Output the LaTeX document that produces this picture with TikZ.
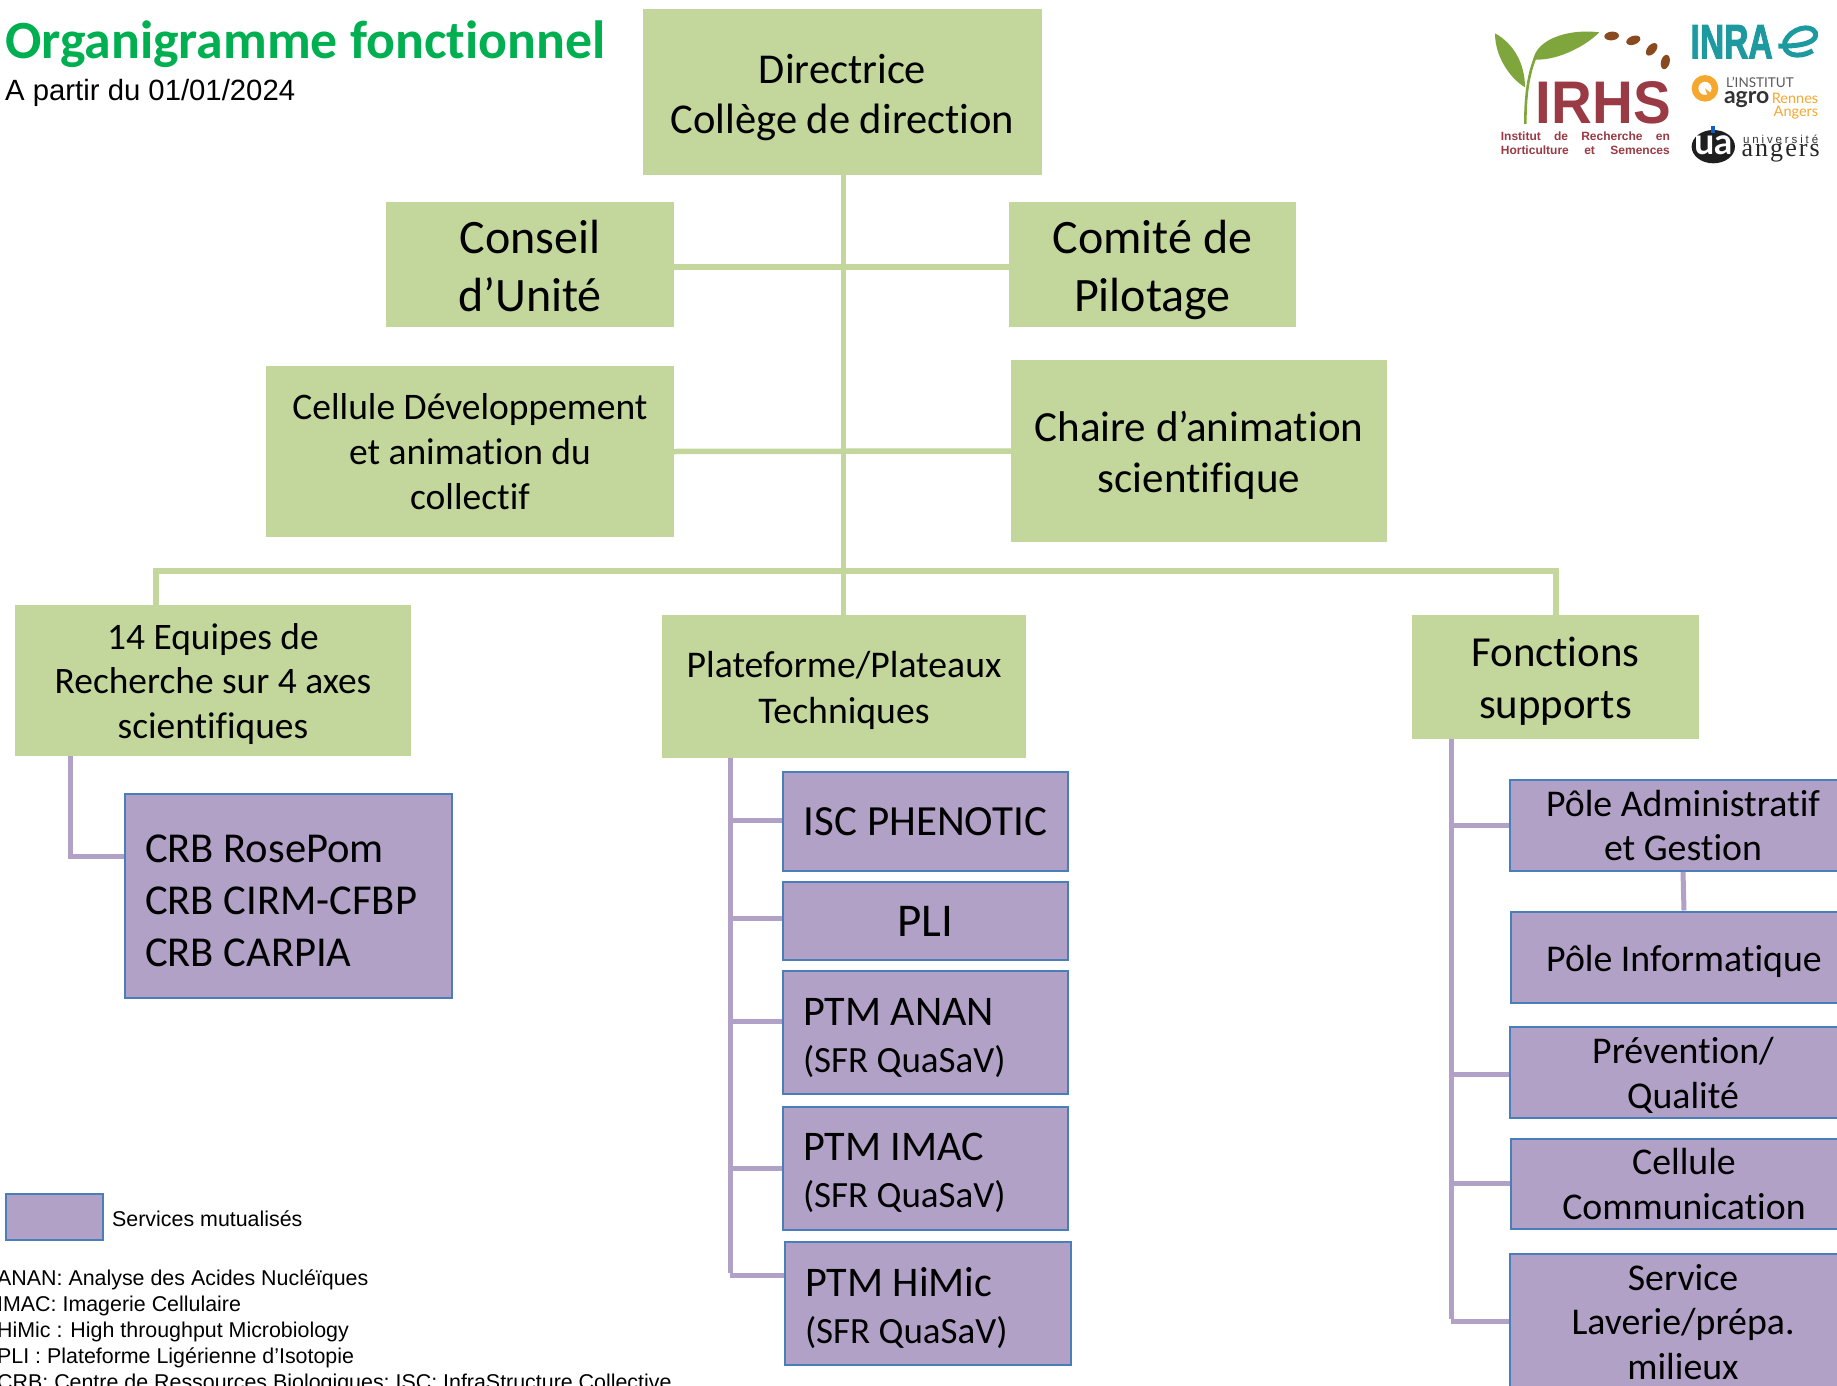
\documentclass[tikz,border=0pt]{standalone}
\usepackage{fontspec}
\usepackage{graphicx}
\setmainfont[Ligatures=NoCommon]{Carlito}
\newfontfamily\arial{Liberation Sans}
\newfontfamily\arialfat[FakeBold=2.5]{Liberation Sans Bold}
\newfontfamily\serifl[LetterSpace=8]{Liberation Serif}
\newfontfamily\spacedl[LetterSpace=25]{Liberation Sans}
\newfontfamily\lato{Lato}
\definecolor{gfill}{HTML}{C3D69B}
\definecolor{pfill}{HTML}{B2A1C7}
\definecolor{pline}{HTML}{4A7EBB}
\definecolor{titleg}{HTML}{00B050}
\definecolor{irhsred}{HTML}{9A3A44}
\definecolor{leafg}{HTML}{7FA63C}
\definecolor{seedb}{HTML}{8A4A20}
\definecolor{inrat}{HTML}{1C9AA0}
\definecolor{agroo}{HTML}{F6A82E}
\newcommand{\fs}[2]{\fontsize{#1}{#2}\selectfont}
\newcommand{\dn}[1]{\rule{0pt}{#1pt}}
\tikzset{
  gbox/.style={rectangle,fill=gfill,inner sep=0pt,align=center,text=black},
  pbox/.style={rectangle,fill=pfill,draw=pline,line width=2pt,inner sep=0pt,align=center,text=black},
  pleft/.style={pbox,align=flush left,inner xsep=20pt},
  gcon/.style={draw=gfill,line width=5.5pt},
  pcon/.style={draw=pfill,line width=5pt},
  plain/.style={inner sep=0pt,anchor=west,text=black},
  notes/.style={plain,font=\arial\fs{21.4}{26}},
  logotxt/.style={inner sep=0pt,anchor=center},
}
\begin{document}
\begin{tikzpicture}[x=1pt,y=-1pt]
\useasboundingbox (0,0) rectangle (1837,1386);
\clip (0,0) rectangle (1837,1386);
\fill[white] (0,0) rectangle (1837,1386);
% title
\node[plain,text=titleg,font=\fs{53.8}{60}\bfseries] (title) at (5,44) {Organigramme fonctionnel};
\node[plain,font=\arial\fs{29.3}{34}] (date) at (5,93) {A partir du 01/01/2024};
% green boxes
\node[gbox,font=\fs{42.5}{50},minimum width=399pt,minimum height=166pt] (dir) at (842.5,92) {\dn{40}Directrice\\Collège de direction};
\node[gbox,font=\fs{48}{58},minimum width=288pt,minimum height=125pt] (conseil) at (530,264.5) {\dn{36}Conseil\\d’Unité};
\node[gbox,font=\fs{48}{58},minimum width=287pt,minimum height=125pt] (comite) at (1152.5,264.5) {\dn{45}Comité de\\Pilotage};
\node[gbox,font=\fs{37.5}{45},minimum width=408pt,minimum height=171pt] (cellule) at (470,451.5) {Cellule Développement\\et animation du\\collectif};
\node[gbox,font=\fs{43}{51.5},minimum width=376pt,minimum height=182pt] (chaire) at (1199,451) {\dn{39}Chaire d’animation\\scientifique};
\node[gbox,font=\fs{37.4}{44.5},minimum width=396pt,minimum height=151pt] (equipes) at (213,680.5) {\dn{33}14 Equipes de\\Recherche sur 4 axes\\scientifiques};
\node[gbox,font=\fs{37.7}{45.5},minimum width=364pt,minimum height=143pt] (plat) at (844,686.5) {\dn{34.5}Plateforme/Plateaux\\Techniques};
\node[gbox,font=\fs{42.8}{51.5},minimum width=287pt,minimum height=124pt] (fonc) at (1555.5,677) {\dn{38}Fonctions\\supports};
% purple boxes
\node[pleft,font=\fs{42.6}{52},minimum width=327pt,minimum height=204pt,text width=287pt] (crb) at (288.5,896) {\dn{37}CRB RosePom\\CRB CIRM-CFBP\\CRB CARPIA};
\node[pbox,font=\fs{43}{50},minimum width=285pt,minimum height=99pt] (isc) at (925.5,821.5) {ISC PHENOTIC};
\node[pbox,font=\fs{47}{50},minimum width=285pt,minimum height=78pt] (pli) at (925.5,921) {PLI};
\node[pleft,font=\fs{42.2}{47},minimum width=285pt,minimum height=123pt,text width=245pt] (anan) at (925.5,1032.5) {\dn{38}PTM ANAN\\\fs{37}{47}(SFR QuaSaV)};
\node[pleft,font=\fs{42.2}{47},minimum width=285pt,minimum height=123pt,text width=245pt] (imac) at (925.5,1168.5) {\dn{36}PTM IMAC\\\fs{37}{47}(SFR QuaSaV)};
\node[pleft,font=\fs{42.2}{47},minimum width=286pt,minimum height=123pt,text width=246pt] (himic) at (928,1303.5) {\dn{39}PTM HiMic\\\fs{37}{47}(SFR QuaSaV)};
\node[pbox,font=\fs{37.8}{44.5},minimum width=346pt,minimum height=91pt] (admin) at (1683,825.5) {Pôle Administratif\\et Gestion};
\node[pbox,font=\fs{37.8}{44.5},minimum width=346pt,minimum height=91pt] (info) at (1684,957) {\dn{35}Pôle Informatique};
\node[pbox,font=\fs{37.8}{44.5},minimum width=346pt,minimum height=91pt] (prev) at (1683,1072) {\dn{33}Prévention/\\Qualité};
\node[pbox,font=\fs{37.8}{44.5},minimum width=346pt,minimum height=90pt] (ccom) at (1684,1184) {Cellule\\Communication};
\node[pbox,font=\fs{37.8}{44.5},minimum width=346pt,minimum height=136pt] (serv) at (1683,1322) {Service\\Laverie/prépa.\\milieux};
% legend
\node[pbox,minimum width=97pt,minimum height=46pt] (leg) at (54.5,1217) {};
\node[notes] (legt) at (112,1218.5) {Services mutualisés};
\node[notes] (n1) at (-3,1280) {ANAN: Analyse des Acides Nucléïques};
\node[notes] (n2) at (-3,1306) {IMAC: Imagerie Cellulaire};
\node[notes] (n3) at (-3,1332) {HiMic : High throughput Microbiology};
\node[notes] (n4) at (-3,1357.5) {PLI : Plateforme Ligérienne d’Isotopie};
\node[notes] (n5) at (-3,1383.5) {CRB: Centre de Ressources Biologiques; ISC: InfraStructure Collective};
% green connectors
\coordinate (busL) at (156,571);
\coordinate (busR) at (1556,571);
\draw[gcon] ([xshift=0.8pt]dir.south) -- ([xshift=0.8pt]dir.south |- plat.north);
\draw[gcon] ([yshift=-2.5pt]conseil.east) -- ([yshift=-2.5pt]comite.west);
\draw[gcon] (cellule.east) -- (chaire.west);
\draw[gcon] (busL) -- (busR);
\draw[gcon] ([yshift=2.7pt]busL) -- (busL |- equipes.north);
\draw[gcon] ([yshift=2.7pt]busR) -- (busR |- fonc.north);
% purple connectors
\coordinate (cL) at (70,856);
\draw[pcon] (cL |- equipes.south) -- (cL) -- (cL -| crb.west);
\coordinate (pT) at (730,758);
\coordinate (p1) at (730,820);
\coordinate (p2) at (730,918);
\coordinate (p3) at (730,1021);
\coordinate (p4) at (730,1168);
\coordinate (p5) at (730,1275);
\draw[pcon] (pT) -- ([yshift=2.5pt]p5);
\draw[pcon] (p1) -- (p1 -| isc.west);
\draw[pcon] (p2) -- (p2 -| pli.west);
\draw[pcon] (p3) -- (p3 -| anan.west);
\draw[pcon] (p4) -- (p4 -| imac.west);
\draw[pcon] (p5) -- (p5 -| himic.west);
\coordinate (fT) at (1451,739);
\coordinate (f1) at (1451,825);
\coordinate (f2) at (1451,1074);
\coordinate (f3) at (1451,1183);
\coordinate (f4) at (1451,1321);
\draw[pcon] (fT) -- ([yshift=2.5pt]f4);
\draw[pcon] (f1) -- (f1 -| admin.west);
\draw[pcon] (f2) -- (f2 -| prev.west);
\draw[pcon] (f3) -- (f3 -| ccom.west);
\draw[pcon] (f4) -- (f4 -| serv.west);
\draw[pcon] (admin.south) -- (info.north);
% logos (drawn in 3x crop coordinates)
\begin{scope}[shift={(1470pt,0pt)},x=0.3333pt,y=-0.3333pt]
  \fill[leafg] (75,100) .. controls (130,130) and (165,190) .. (165,262) .. controls (120,235) and (75,170) .. (75,100) -- cycle;
  \fill[leafg] (190,178) .. controls (200,120) and (290,85) .. (388,97) .. controls (340,145) and (250,185) .. (190,178) -- cycle;
  \draw[leafg,line width=2.6pt] (166,372) .. controls (166,300) and (172,230) .. (196,172);
  \foreach \sx/\sy/\sa in {425/108/5,490/121/20,545/148/50,586/186/75}
    \fill[seedb,rotate around={\sa:(\sx,\sy)}] (\sx,\sy) ellipse (22 and 13);
  \node[logotxt,text=irhsred] (irhs) at (400,308) {\resizebox{135pt}{42pt}{\arial\bfseries IRHS}};
  \node[logotxt,text=irhsred] (irhs1) at (346,408) {\makebox[169pt][s]{\arial\bfseries\fs{12}{14}Institut\hfil de\hfil Recherche\hfil en}};
  \node[logotxt,text=irhsred] (irhs2) at (346,452) {\makebox[169pt][s]{\arial\bfseries\fs{12}{14}Horticulture\hfil et\hfil Semences}};
  \node[logotxt,text=inrat] (inra) at (785,125) {\resizebox{82pt}{33pt}{\arialfat INRA}};
  \draw[inrat,line width=5pt] (925,138) .. controls (1000,140) and (1045,125) .. (1036,98) .. controls (1022,70) and (962,85) .. (945,125) .. controls (935,165) and (985,178) .. (1028,152);
  \draw[agroo,line width=6.5pt] (705,265) circle (30);
  \fill[agroo] (705,265) -- (735,290) -- (715,292) -- cycle;
  \node[logotxt,text=black!65] (inst) at (870,248) {\lato\fs{13.5}{15}L’INSTITUT};
  \node[logotxt,text=black!80] (agro) at (830,300) {\lato\bfseries\fs{23}{24}agro};
  \node[logotxt,text=agroo] (ren) at (975,295) {\lato\fs{14.5}{16}Rennes};
  \node[logotxt,text=agroo] (ang) at (978,337) {\lato\fs{14.5}{16}Angers};
  \fill[black!88] (730,440) ellipse (65 and 50);
  \fill[inrat!60!blue] (722,378) rectangle (735,400);
  \node[logotxt,text=white] (ua) at (730,437) {\lato\bfseries\fs{36}{38}ua};
  \node[logotxt,text=black!80] (uni) at (932,417) {\spacedl\fs{11.5}{13}université};
  \node[logotxt,text=black!85] (angers) at (932,458) {\serifl\fs{26}{27}angers};
\end{scope}
\end{tikzpicture}
\end{document}
